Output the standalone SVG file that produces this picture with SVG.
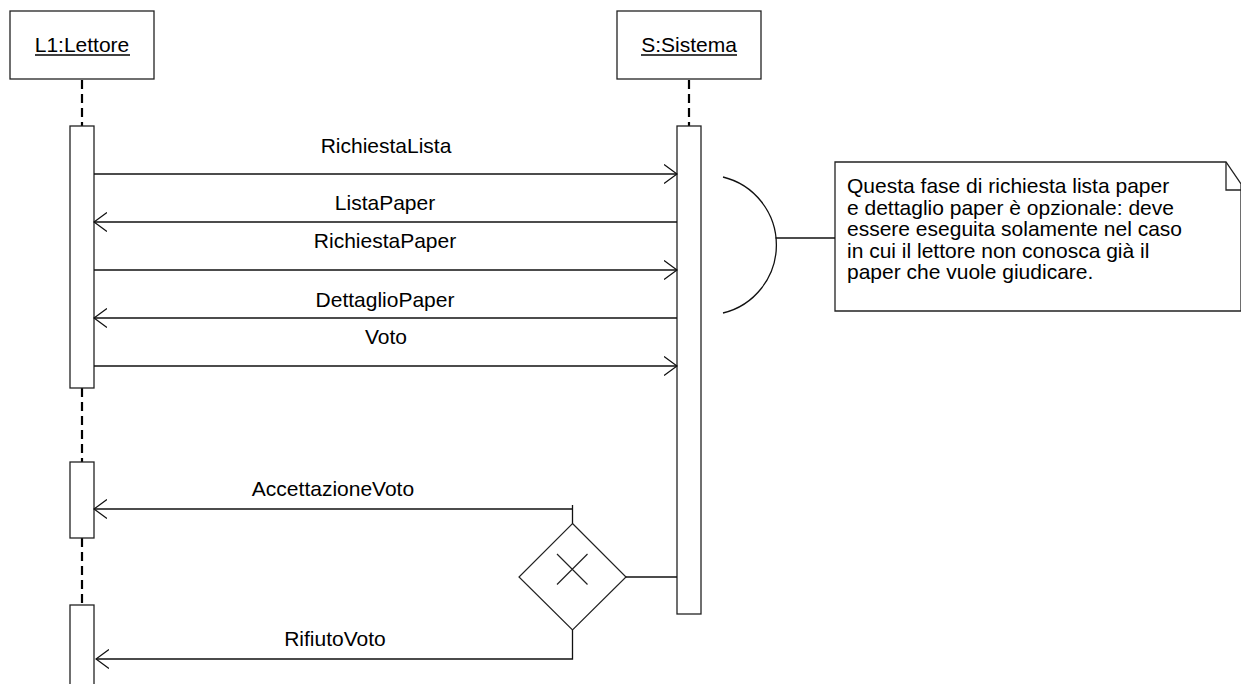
<svg xmlns="http://www.w3.org/2000/svg" width="1241" height="684" viewBox="0 0 1241 684">
  <style>
    text { font-family: "Liberation Sans", Arial, sans-serif; font-size: 21px; fill: #000; }
    .box { fill: #fff; stroke: #222; stroke-width: 1.3; }
    .life { stroke: #000; stroke-width: 2.2; stroke-dasharray: 9 5; fill: none; }
    .msg { stroke: #111; stroke-width: 1.3; fill: none; }
    .act { fill: #fff; stroke: #222; stroke-width: 1.3; }
    .mid { text-anchor: middle; }
  </style>
  <defs>
    <marker id="open" viewBox="0 0 14 20" refX="13" refY="10" markerWidth="14" markerHeight="20" markerUnits="userSpaceOnUse" orient="auto">
      <path d="M0,0.5 L13,10 L0,19.5" fill="none" stroke="#111" stroke-width="1.3"/>
    </marker>
  </defs>

  <!-- lifelines -->
  <g id="lifelines">
    <line class="life" x1="82" y1="80" x2="82" y2="126"/>
    <line class="life" x1="82" y1="388" x2="82" y2="462"/>
    <line class="life" x1="82" y1="538" x2="82" y2="605"/>
    <line class="life" x1="689" y1="80" x2="689" y2="126"/>
  </g>

  <!-- object L1 -->
  <g id="lettore">
    <rect class="box" x="10" y="11" width="144" height="68"/>
    <text class="mid" x="82" y="52">L1:Lettore</text>
    <line x1="35" y1="55" x2="130" y2="55" stroke="#000" stroke-width="1.3"/>
    <rect class="act" x="70" y="126" width="24" height="262"/>
    <rect class="act" x="70" y="462" width="24" height="76"/>
    <rect class="act" x="70" y="605" width="24" height="90"/>
  </g>

  <!-- object S -->
  <g id="sistema">
    <rect class="box" x="617" y="11" width="144" height="68"/>
    <text class="mid" x="689" y="52">S:Sistema</text>
    <line x1="641" y1="55" x2="737" y2="55" stroke="#000" stroke-width="1.3"/>
    <rect class="act" x="677" y="126" width="24" height="488"/>
  </g>

  <!-- choice -->
  <g id="scelta">
    <path d="M572.5,523.5 L626,577 L572.5,630 L519,577 Z" fill="#fff" stroke="#222" stroke-width="1.2"/>
    <path d="M557,554 L587.5,584.5 M587.5,554 L557,584.5" stroke="#222" stroke-width="1.2"/>
  </g>

  <!-- note -->
  <g id="nota">
    <path d="M835,162 H1226 L1241,184 V311 H835 Z" fill="#fff" stroke="#222" stroke-width="1.3"/>
    <path d="M1226,162 V190 H1241" fill="none" stroke="#222" stroke-width="1.3"/>
    <text x="847" y="193">Questa fase di richiesta lista paper</text>
    <text x="847" y="214.5">e dettaglio paper è opzionale: deve</text>
    <text x="847" y="236">essere eseguita solamente nel caso</text>
    <text x="847" y="257.5">in cui il lettore non conosca già il</text>
    <text x="847" y="279">paper che vuole giudicare.</text>
  </g>

  <!-- connectors -->
  <g id="connectors">
    <line class="msg" x1="94" y1="174" x2="677" y2="174" marker-end="url(#open)"/>
    <line class="msg" x1="677" y1="222" x2="94" y2="222" marker-end="url(#open)"/>
    <line class="msg" x1="94" y1="270" x2="677" y2="270" marker-end="url(#open)"/>
    <line class="msg" x1="677" y1="318" x2="94" y2="318" marker-end="url(#open)"/>
    <line class="msg" x1="94" y1="366" x2="677" y2="366" marker-end="url(#open)"/>
    <path class="msg" d="M572.5,523.5 V505"/>
    <line class="msg" x1="572.5" y1="509" x2="94" y2="509" marker-end="url(#open)"/>
    <path class="msg" d="M572.5,630 V659 H96" marker-end="url(#open)"/>
    <line class="msg" x1="626" y1="577" x2="677" y2="577"/>
    <path class="msg" d="M723,177 A70,70 0 0 1 723,313"/>
    <line class="msg" x1="775.5" y1="238" x2="835" y2="238"/>
  </g>

  <!-- message labels -->
  <g id="labels">
    <text class="mid" x="386" y="153">RichiestaLista</text>
    <text class="mid" x="385" y="210">ListaPaper</text>
    <text class="mid" x="385" y="248">RichiestaPaper</text>
    <text class="mid" x="385" y="307">DettaglioPaper</text>
    <text class="mid" x="386" y="344">Voto</text>
    <text class="mid" x="333" y="496">AccettazioneVoto</text>
    <text class="mid" x="335" y="646">RifiutoVoto</text>
  </g>
</svg>
